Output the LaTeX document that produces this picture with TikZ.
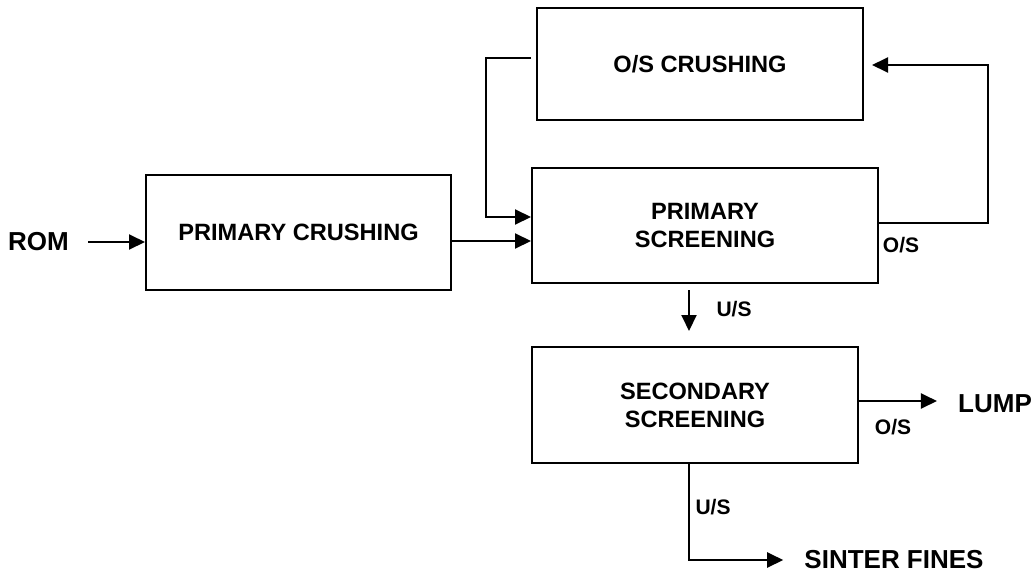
\documentclass[tikz,border=0pt]{standalone}
\usepackage{tikz}
\usepackage{fontspec}
\setmainfont{Liberation Sans}
\usetikzlibrary{positioning, calc, arrows.meta}

\begin{document}
\begin{tikzpicture}[x=1pt, y=-1pt,
    box/.style={draw, line width=2pt, align=center, inner sep=0pt,
      font=\fontsize{23.6}{28}\selectfont\bfseries},
    endlbl/.style={inner sep=0pt, font=\fontsize{26}{30}\selectfont\bfseries},
    smlbl/.style={inner sep=0pt, font=\fontsize{21}{24}\selectfont\bfseries},
    flow/.style={line width=2pt, -{Triangle[length=16pt,width=15pt]}}]
    \useasboundingbox (0,0) rectangle (1035,573);
    \node[box, minimum width=305pt, minimum height=115pt] (pcrush) at (298.5,232.5) {PRIMARY CRUSHING};
    \node[box, minimum width=326pt, minimum height=112pt] (oscrush) at (700,64) {O/S CRUSHING};
    \node[box, minimum width=346pt, minimum height=115pt] (pscreen) at (705,225.5) {PRIMARY\\SCREENING};
    \node[box, minimum width=326pt, minimum height=116pt] (sscreen) at (695,405) {SECONDARY\\SCREENING};
    \node[endlbl] (rom) at (38.5,242) {ROM};
    \node[endlbl] (lump) at (995,404) {LUMP};
    \node[endlbl] (sinter) at (894,560) {SINTER FINES};
    \node[smlbl] (osA) at (901,245) {O/S};
    \node[smlbl] (usA) at (734,309) {U/S};
    \node[smlbl] (osB) at (893,427) {O/S};
    \node[smlbl] (usB) at (713,507) {U/S};
    \coordinate (feed) at (0,241);
    \coordinate (retL) at (486,217);
    \coordinate (retR) at (988,65);
    \draw[flow, shorten <=19pt] (rom.east) -- (rom.east -| pcrush.west);
    \draw[flow] (feed -| pcrush.east) -- (feed -| pscreen.west);
    \draw[flow] ([xshift=-5pt, yshift=6pt]oscrush.west) -| (retL) -- (retL -| pscreen.west);
    \draw[flow, shorten >=8pt] ([yshift=2.5pt]pscreen.east) -| (retR) -- (retR -| oscrush.east);
    \draw[flow, shorten <=6pt, shorten >=15pt] ([xshift=-16pt]pscreen.south) -- ([xshift=-16pt]pscreen.south |- sscreen.north);
    \draw[flow, shorten >=21pt] ([yshift=4pt]sscreen.east) -- ([yshift=4pt]sscreen.east -| lump.west);
    \draw[flow, shorten >=21pt] ([xshift=-6pt]sscreen.south) |- (sinter.west);
\end{tikzpicture}
\end{document}
